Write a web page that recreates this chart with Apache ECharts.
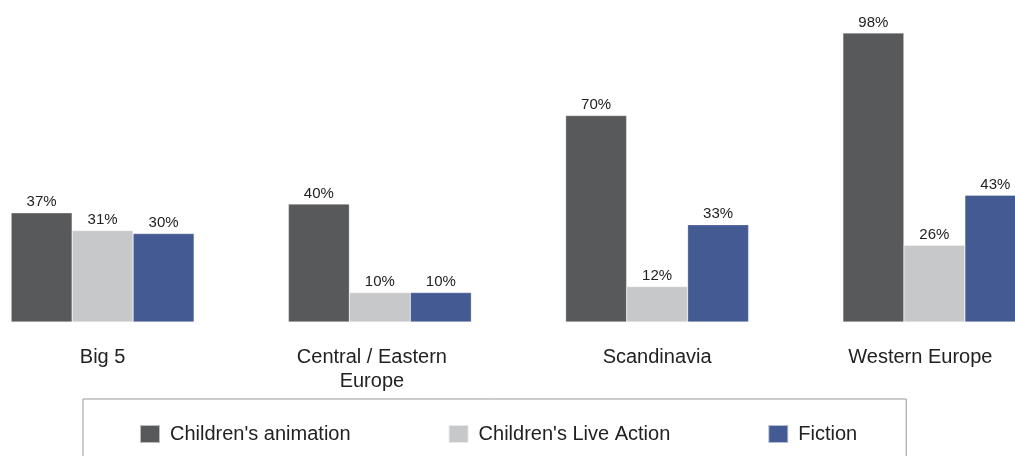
<!DOCTYPE html>
<html><head><meta charset="utf-8">
<script src="https://cdn.jsdelivr.net/npm/echarts@6/dist/echarts.min.js"></script>
<style>html,body{margin:0;padding:0;background:#fff}#c{width:1015px;height:456px}</style>
</head><body><div id="c"></div>
<script>
const categories = ['Big 5', 'Central / Eastern\nEurope', 'Scandinavia', 'Western Europe'];
const seriesNames = ["Children's animation", "Children's Live Action", 'Fiction'];
const animation = [37, 40, 70, 98];
const liveAction = [31, 10, 12, 26];
const fiction = [30, 10, 33, 43];
const colors = ['#58595b', '#c7c8ca', '#445a92'];
const labelShift = ['', 'c', '', 'w'];

const chart = echarts.init(document.getElementById('c'));
const font = 'Liberation Sans, Arial, Helvetica, sans-serif';
function mk(name, data, i) {
  return {
    name, type: 'bar', data, barGap: 0, barCategoryGap: '34%',
    itemStyle: { color: colors[i], borderColor: 'rgba(255,255,255,0.6)', borderWidth: 0.5 },
    label: { show: true, position: 'top', distance: 3, formatter: '{c}%', fontFamily: font, fontSize: 15, color: '#222' }
  };
}
chart.setOption({
  animation: false,
  grid: { left: -36, right: -58, top: 27, bottom: 134, containLabel: false, outerBoundsMode: 'none' },
  xAxis: {
    type: 'category', data: categories,
    axisLine: { show: false }, axisTick: { show: false },
    axisLabel: {
      interval: 0, margin: 23, fontFamily: font, fontSize: 20, color: '#222', lineHeight: 24,
      formatter: (v, idx) => {
        const s = labelShift[idx];
        if (!s) return v;
        return v.split('\n').map(t => '{' + s + '|' + t + '}').join('\n');
      },
      rich: {
        c: { fontFamily: font, fontSize: 20, color: '#222', lineHeight: 24, padding: [0, 16, 0, 0] },
        w: { fontFamily: font, fontSize: 20, color: '#222', lineHeight: 24, padding: [0, 28, 0, 0] }
      }
    }
  },
  yAxis: { type: 'value', min: 0, max: 100, show: false, splitLine: { show: false } },
  legend: {
    left: 83, top: 399, orient: 'horizontal',
    padding: [25, 49, 30, 56], itemGap: 97,
    borderColor: '#999', borderWidth: 1,
    itemWidth: 20, itemHeight: 18, icon: 'rect',
    textStyle: { fontFamily: font, fontSize: 20, color: '#222', padding: [0, 0, 0, 5] },
    data: seriesNames
  },
  series: [mk(seriesNames[0], animation, 0), mk(seriesNames[1], liveAction, 1), mk(seriesNames[2], fiction, 2)]
});
</script></body></html>
